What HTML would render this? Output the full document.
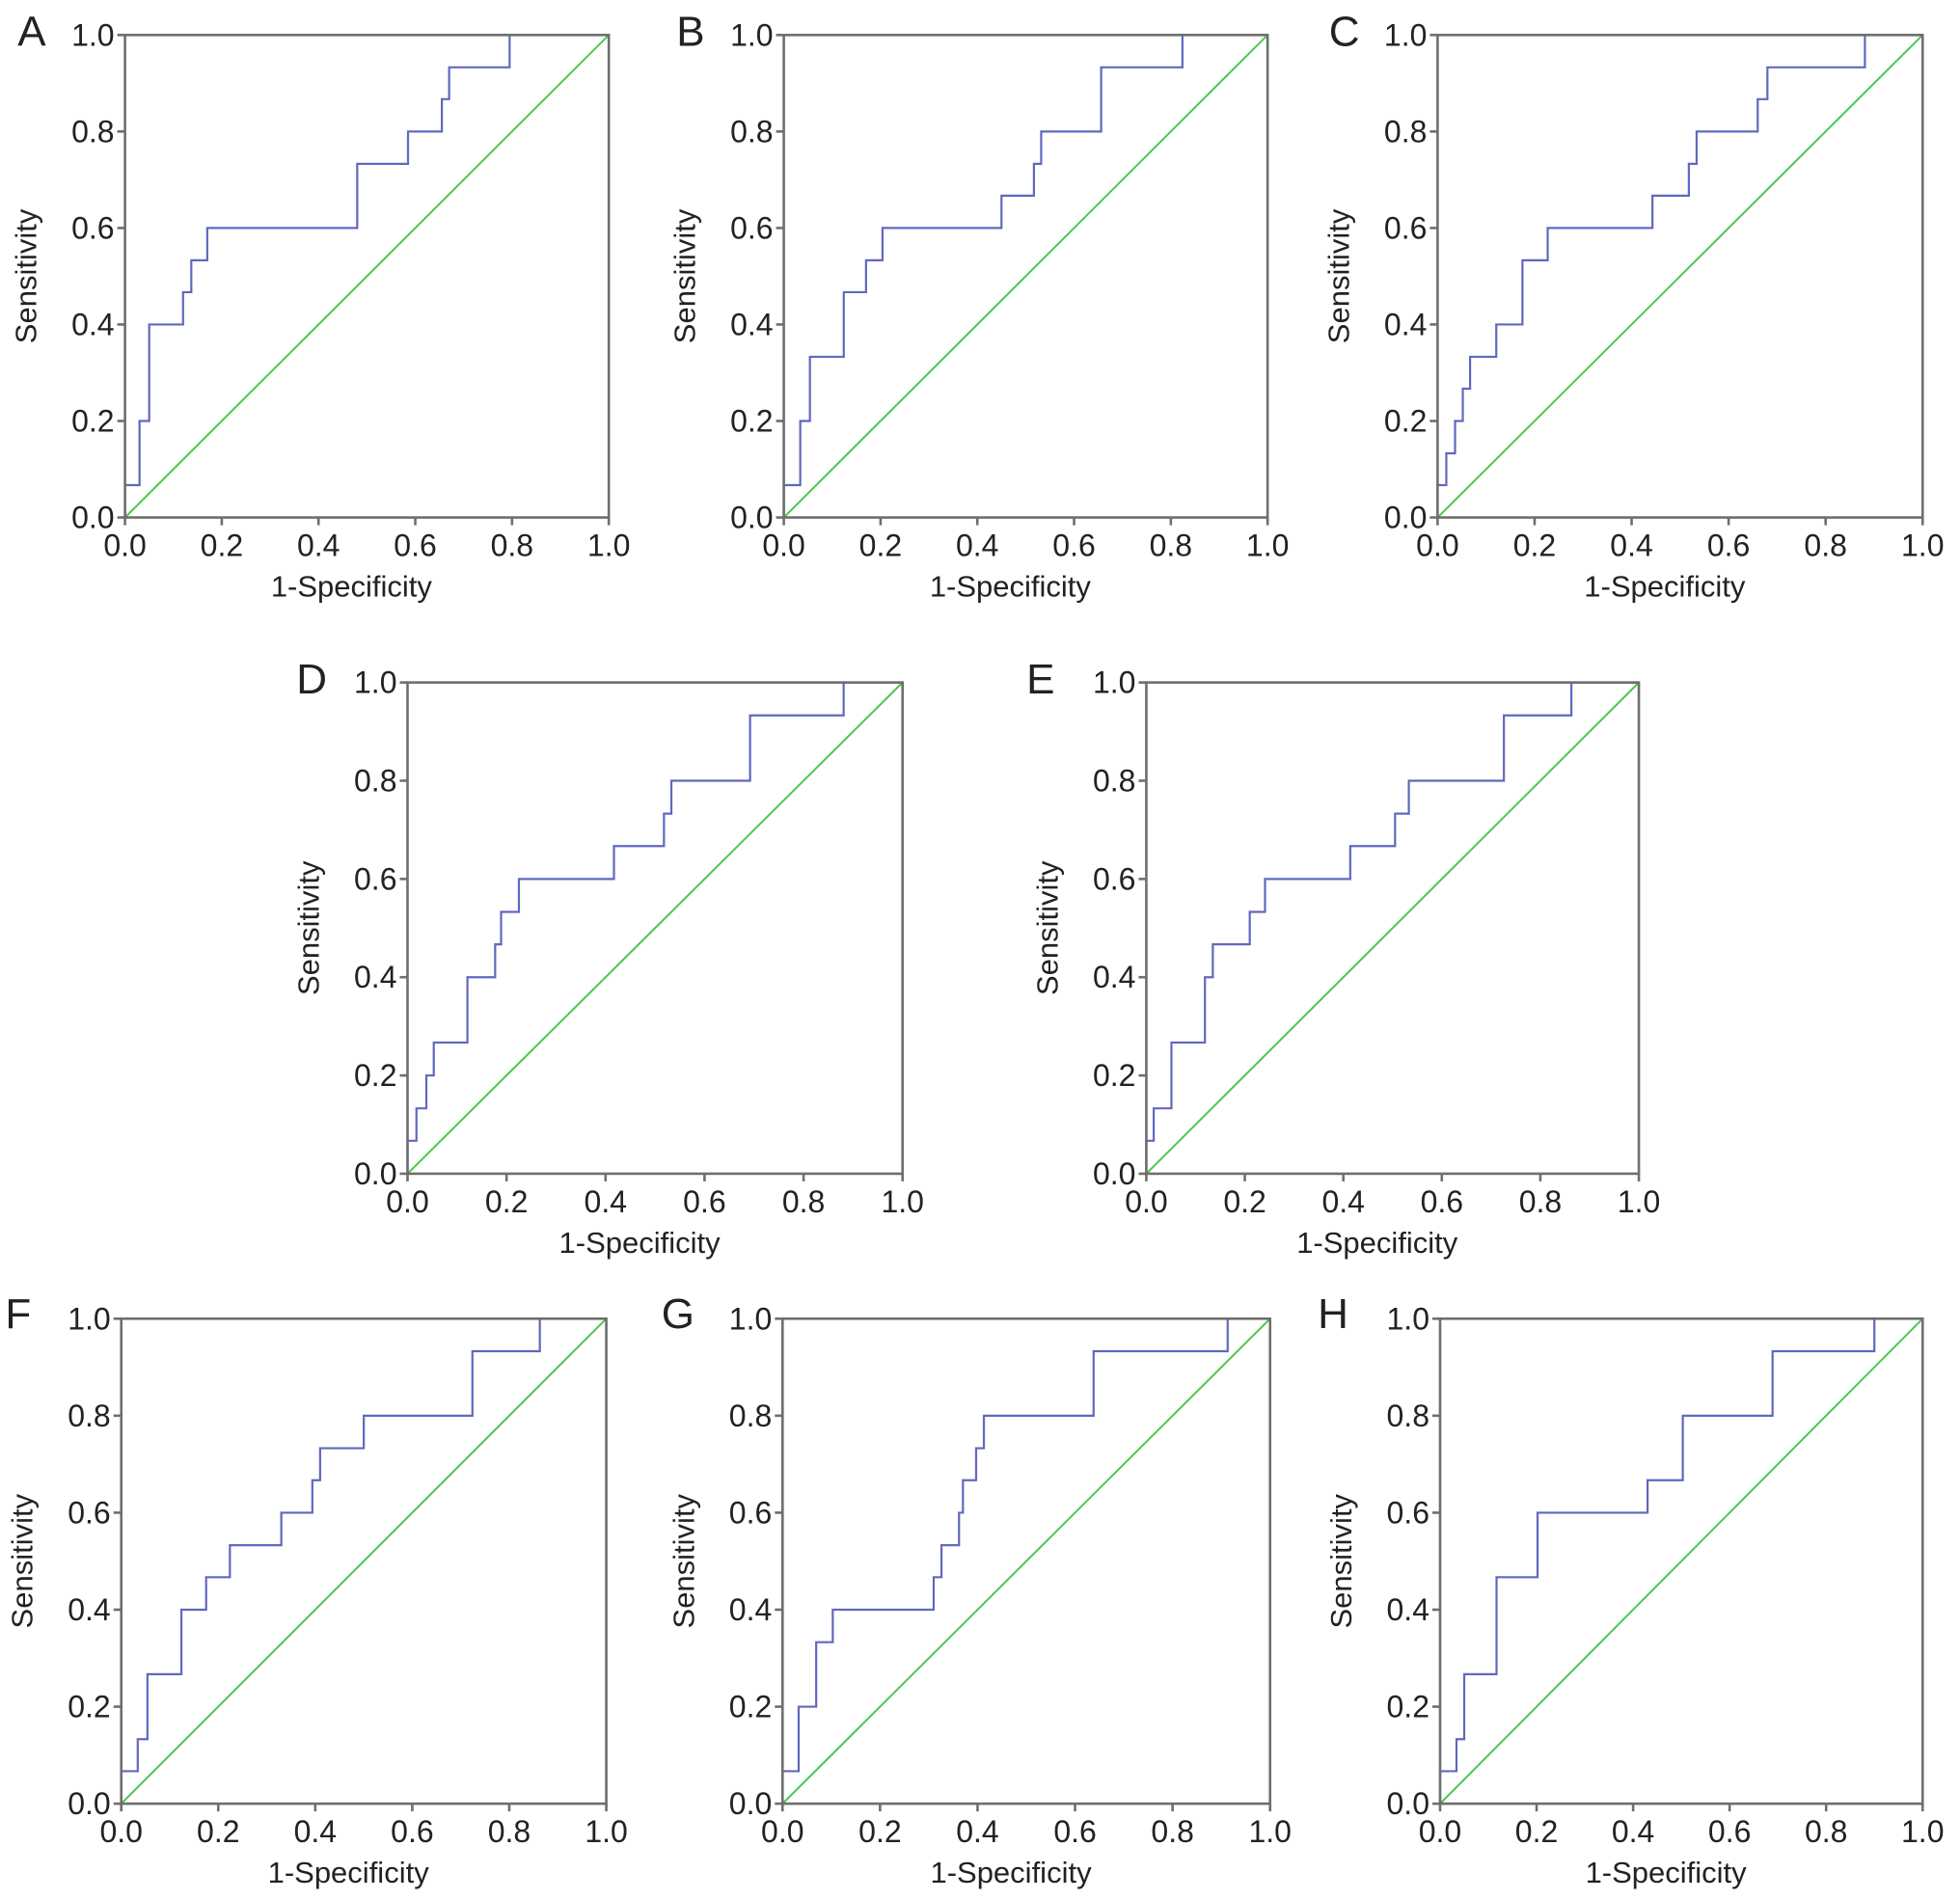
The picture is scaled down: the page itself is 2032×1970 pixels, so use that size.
<!DOCTYPE html>
<html><head><meta charset="utf-8"><style>
html,body{margin:0;padding:0;background:#fff}
svg{display:block}
text{font-family:"Liberation Sans",Arial,sans-serif;fill:#222}
</style></head><body>
<svg id="fig" width="2032" height="1970" viewBox="0 0 2032 1970" xmlns="http://www.w3.org/2000/svg"></svg>
<script>
const panelLabels = ["A","B","C","D","E","F","G","H"];
const fprA = [0,0,0.03,0.05,0.12,0.137,0.17,0.48,0.585,0.655,0.67,0.795,1];
const tprA = [0,0.067,0.2,0.4,0.467,0.533,0.6,0.733,0.8,0.867,0.933,1,1];
const fprB = [0,0,0.034,0.054,0.124,0.17,0.204,0.45,0.517,0.532,0.656,0.824,1];
const tprB = [0,0.067,0.2,0.333,0.467,0.533,0.6,0.667,0.733,0.8,0.933,1,1];
const fprC = [0,0,0.018,0.036,0.052,0.067,0.121,0.175,0.227,0.443,0.518,0.534,0.66,0.68,0.881,1];
const tprC = [0,0.067,0.133,0.2,0.267,0.333,0.4,0.533,0.6,0.667,0.733,0.8,0.867,0.933,1,1];
const fprD = [0,0,0.018,0.038,0.053,0.121,0.177,0.189,0.225,0.417,0.518,0.533,0.692,0.881,1];
const tprD = [0,0.067,0.133,0.2,0.267,0.4,0.467,0.533,0.6,0.667,0.733,0.8,0.933,1,1];
const fprE = [0,0,0.015,0.051,0.119,0.135,0.21,0.241,0.414,0.505,0.533,0.726,0.863,1];
const tprE = [0,0.067,0.133,0.267,0.4,0.467,0.533,0.6,0.667,0.733,0.8,0.933,1,1];
const fprF = [0,0,0.034,0.054,0.124,0.175,0.224,0.33,0.394,0.41,0.5,0.724,0.863,1];
const tprF = [0,0.067,0.133,0.267,0.4,0.467,0.533,0.6,0.667,0.733,0.8,0.933,1,1];
const fprG = [0,0,0.033,0.069,0.103,0.31,0.326,0.362,0.37,0.397,0.413,0.638,0.913,1];
const tprG = [0,0.067,0.2,0.333,0.4,0.467,0.533,0.6,0.667,0.733,0.8,0.933,1,1];
const fprH = [0,0,0.034,0.05,0.117,0.202,0.43,0.503,0.689,0.9,1];
const tprH = [0,0.067,0.133,0.267,0.467,0.6,0.667,0.8,0.933,1,1];
const tickValues = [0,0.2,0.4,0.6,0.8,1.0];
const tickLabels = ["0.0","0.2","0.4","0.6","0.8","1.0"];

const S = 1.296;
const layout = [
  {l:100,r:487,t:28,b:414,lx:28,ly:22},
  {l:627,r:1014,t:28,b:414,lx:555,ly:22},
  {l:1150,r:1538,t:28,b:414,lx:1077,ly:22},
  {l:326,r:722,t:546,b:939,lx:251,ly:540},
  {l:917,r:1311,t:546,b:939,lx:835,ly:540},
  {l:97,r:485,t:1055,b:1443,lx:18,ly:1048},
  {l:626,r:1016,t:1055,b:1443,lx:543,ly:1048},
  {l:1152,r:1538,t:1055,b:1443,lx:1068,ly:1048}
];
const series = [[fprA,tprA],[fprB,tprB],[fprC,tprC],[fprD,tprD],[fprE,tprE],[fprF,tprF],[fprG,tprG],[fprH,tprH]];
const NS = "http://www.w3.org/2000/svg";
const fig = document.getElementById("fig");
function mk(tag, attrs, parent){
  const e = document.createElementNS(NS, tag);
  for (const k in attrs) e.setAttribute(k, attrs[k]);
  parent.appendChild(e);
  return e;
}
layout.forEach((p, i) => {
  const L = p.l*S, R = p.r*S, T = p.t*S, B = p.b*S;
  const xs = v => L + v*(R-L);
  const ys = v => B - v*(B-T);
  const g = mk("g", {}, fig);
  
  
  const lab = mk("text", {x:p.lx*S-18, y:p.ly*S+19, "font-size":44}, g);
  lab.textContent = panelLabels[i];
  
  
  const diag = mk("line", {x1:xs(0), y1:ys(0), x2:xs(1), y2:ys(1), stroke:"#4cc84c", "stroke-width":2}, g);
  
  
  const fx = series[i][0], ty = series[i][1];
  let d = "M" + xs(fx[0]) + " " + ys(ty[0]);
  for (let k = 1; k < fx.length; k++) {
    d += " L" + xs(fx[k]) + " " + ys(ty[k-1]) + " L" + xs(fx[k]) + " " + ys(ty[k]);
  }
  const roc = mk("path", {d:d, fill:"none", stroke:"#6068bf", "stroke-width":2.2}, g);
  
  
  const fr = mk("rect", {x:L, y:T, width:R-L, height:B-T, fill:"none", stroke:"#6e6e6e", "stroke-width":2.6}, g);
  
  
  tickValues.forEach((v, j) => {
    mk("line", {x1:xs(v), y1:B, x2:xs(v), y2:B+8, stroke:"#6e6e6e", "stroke-width":2.6}, g);
    mk("line", {x1:L-8, y1:ys(v), x2:L, y2:ys(v), stroke:"#6e6e6e", "stroke-width":2.6}, g);
    const tx = mk("text", {x:xs(v), y:B+40, "font-size":32, "text-anchor":"middle"}, g);
    tx.textContent = tickLabels[j];
    
    
    const ty2 = mk("text", {x:L-11, y:ys(v)+11, "font-size":32, "text-anchor":"end"}, g);
    ty2.textContent = tickLabels[j];
    
    
  });
  const xt = mk("text", {x:(L+R)/2-16, y:B+82, "font-size":31, "text-anchor":"middle"}, g);
  xt.textContent = "1-Specificity";
  
  
  const cx = L-92, cy = (T+B)/2;
  const yt = mk("text", {x:cx, y:cy, "font-size":31, "text-anchor":"middle", transform:"rotate(-90 "+cx+" "+cy+")"}, g);
  yt.textContent = "Sensitivity";
  
  
});
</script>
</body></html>
